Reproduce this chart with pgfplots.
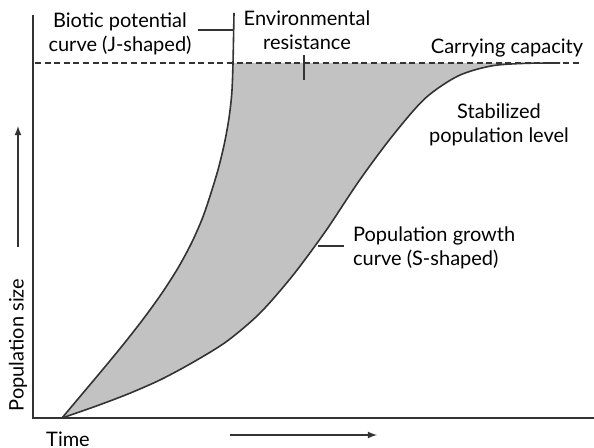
\documentclass[border=0pt]{standalone}
\usepackage{pgfplots}
\pgfplotsset{compat=1.18}
\usepgfplotslibrary{fillbetween}
\usepackage{fontspec}
\setmainfont{Lato}
\definecolor{ink}{HTML}{333333}
\definecolor{fillgray}{HTML}{C2C2C2}
\begin{document}
\begin{tikzpicture}
\begin{axis}[
  scale only axis, width=297pt, height=224pt,
  xmin=0, xmax=594, ymin=0, ymax=448,
  hide axis, clip=false,
  every node/.style={font=\fontsize{9.5}{11.5}\selectfont, text=ink, inner sep=0pt},
]
% J curve (biotic potential) up to carrying capacity, for the fill
\addplot[draw=none, name path=J, smooth] coordinates {
 (62,30) (83,55) (104,80) (124.5,105) (144,130) (162,155) (178,180)
 (191.5,205) (202.5,230) (211,255) (218.5,280) (224.5,305) (229,330)
 (231.8,355) (233,385)};
% S curve (population growth)
\addplot[draw=none, name path=S, smooth] coordinates {
 (62,30) (95,41.5) (128,54) (161,68.5) (194,86.3) (227,106.8) (260,134.9)
 (293,172.8) (326,217.4) (359,267) (392,311.5) (425,349.5) (458,372)
 (491,382) (524,384.6) (560,385)};
\addplot[fill=fillgray, draw=none] fill between[of=J and S];
% axes
\addplot[ink, line width=0.8pt] coordinates {(33,433) (33,30) (594,30)};
% carrying capacity
\addplot[ink, line width=0.7pt, dash pattern=on 3pt off 1.8pt] coordinates {(35,385) (582,385)};
% J curve drawn
\addplot[ink, line width=0.8pt, smooth] coordinates {
 (62,30) (83,55) (104,80) (124.5,105) (144,130) (162,155) (178,180)
 (191.5,205) (202.5,230) (211,255) (218.5,280) (224.5,305) (229,330)
 (231.8,355) (233,385) (234,435)};
% S curve drawn
\addplot[ink, line width=0.8pt, smooth] coordinates {
 (62,30) (95,41.5) (128,54) (161,68.5) (194,86.3) (227,106.8) (260,134.9)
 (293,172.8) (326,217.4) (359,267) (392,311.5) (425,349.5) (458,372)
 (491,382) (524,384.6) (560,385)};
% leader lines
\addplot[ink, line width=0.6pt] coordinates {(198,418) (233.5,418)};
\addplot[ink, line width=0.6pt] coordinates {(304,393) (304,368)};
\addplot[ink, line width=0.6pt] coordinates {(318,202) (344,202)};
% arrows
\addplot[ink, line width=0.6pt, -latex] coordinates {(18,201) (18,322)};
\addplot[ink, line width=0.6pt, -latex] coordinates {(230,13) (377,13)};
% labels
\node[align=center] at (axis cs:120,414) {Biotic potential\\curve (J-shaped)};
\node[align=center] at (axis cs:307,418) {Environmental\\resistance};
\node at (axis cs:507,400) {Carrying capacity};
\node[align=center] at (axis cs:499,323) {Stabilized\\population level};
\node[align=left, anchor=west] at (axis cs:346,200) {Population growth\\curve (S-shaped)};
\node[rotate=90] at (axis cs:18,103) {Population size};
\node at (axis cs:68,9) {Time};
\end{axis}
\pgfresetboundingbox
\path (current axis.south west) rectangle (current axis.north east);
\end{tikzpicture}
\end{document}
